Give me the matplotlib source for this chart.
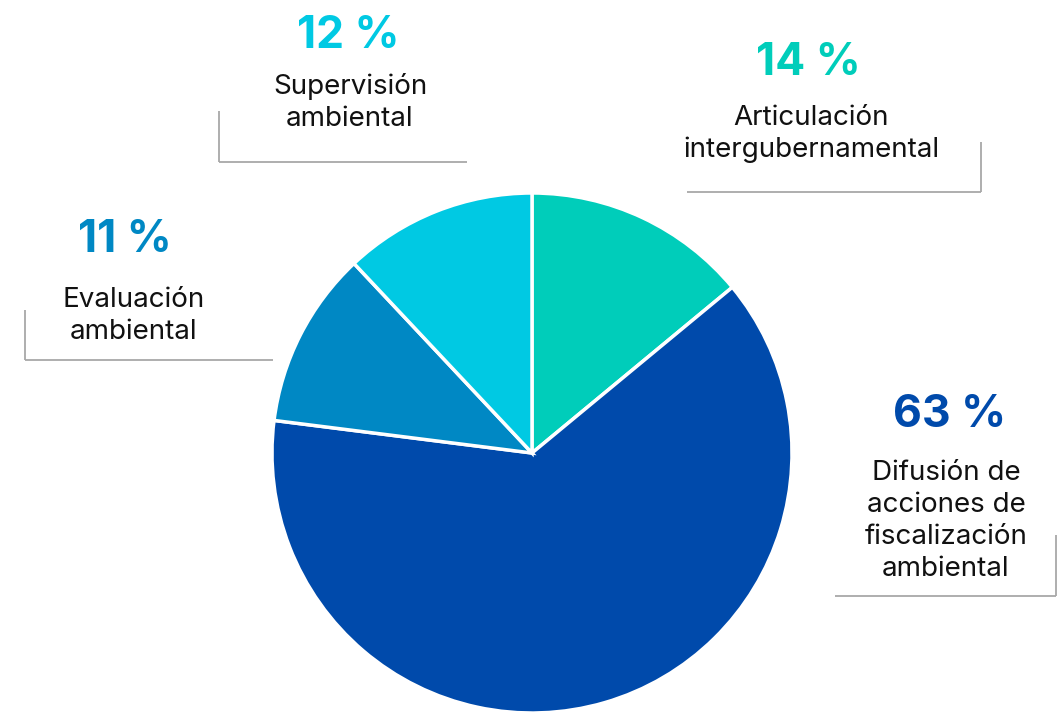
import matplotlib
matplotlib.use("Agg")
import matplotlib.pyplot as plt

# data, clockwise from 12 o'clock
labels = ["Articulación\nintergubernamental",
          "Difusión de\nacciones de\nfiscalización\nambiental",
          "Evaluación\nambiental",
          "Supervisión\nambiental"]
shares = [14, 63, 11, 12]
colors = ["#00CDBA", "#004AAB", "#0088C4", "#00C9E3"]

W, H = 1061, 713
plt.rcParams["font.family"] = ["Inter", "DejaVu Sans"]

fig = plt.figure(figsize=(W / 100, H / 100), dpi=100)
ax = fig.add_axes([0, 0, 1, 1])

def Y(y):
    # pixel row (top-down) -> data y
    return H - y

ax.pie(shares, colors=colors, startangle=90, counterclock=False,
       center=(532, Y(453)), radius=260, frame=True,
       wedgeprops=dict(edgecolor="white", linewidth=2.5))
ax.set_xlim(0, W)
ax.set_ylim(0, H)
ax.set_aspect("equal")
ax.axis("off")

# label layout: pct position, text position, bracket (x range, top y, bottom y, side)
pct_xy = [(808, 63), (950, 415), (125, 240), (348, 36)]
txt_xy = [(811, 134), (946, 521), (134, 316), (350, 103)]
brackets = [
    ((687, 981), 142, 192, "right"),
    ((835, 1056), 535, 596, "right"),
    ((25, 273), 310, 360, "left"),
    ((219, 467), 111, 162, "left"),
]

for i in range(len(shares)):
    px, py = pct_xy[i]
    ax.text(px, Y(py), f"{shares[i]} %", color=colors[i], fontsize=32,
            fontweight="bold", ha="center", va="center")
    tx, ty = txt_xy[i]
    ax.text(tx, Y(ty), labels[i], color="#111111", fontsize=20,
            ha="center", va="center", linespacing=1.3)
    (x0, x1), ytop, ybot, side = brackets[i]
    vx = x1 if side == "right" else x0
    ax.plot([x0, x1], [Y(ybot), Y(ybot)], color="#A8A8A8", lw=1.3,
            solid_capstyle="butt")
    ax.plot([vx, vx], [Y(ytop), Y(ybot)], color="#A8A8A8", lw=1.3,
            solid_capstyle="butt")

fig.savefig("out.png", dpi=100, facecolor="white")
